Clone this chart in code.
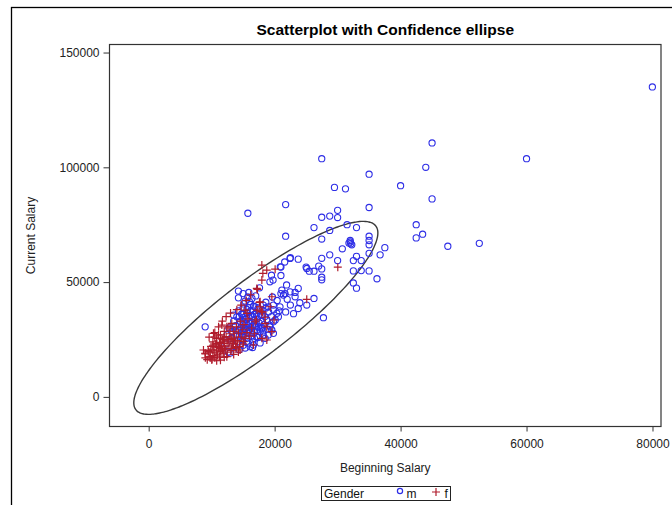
<!DOCTYPE html>
<html>
<head>
<meta charset="utf-8">
<script src="https://cdn.jsdelivr.net/npm/d3@7"></script>
<style>
  body { margin: 0; background: #fff; }
  svg { display: block; font-family: 'Liberation Sans', Arial, sans-serif; }
</style>
</head>
<body>
<div class="chart"></div>
<script>
// [beginning salary, current salary]
const maleData = [
  [79980, 135000], [60000, 103750], [45000, 110625], [27480, 103750], [44000, 100000],
  [35000, 97000], [29500, 91250], [31250, 90625], [40000, 92000], [45000, 86250],
  [21750, 83750], [15750, 80000], [35000, 82500], [30000, 81250], [27480, 78250],
  [28750, 78750], [30000, 78125], [26250, 73750], [28750, 72500], [31500, 75000],
  [33000, 73750], [42480, 75000], [42480, 69250], [43500, 70875], [47500, 65625],
  [52500, 66875], [21750, 70000], [27480, 68750], [32000, 67500], [32000, 68125],
  [32250, 66250], [31800, 67000], [32100, 66750], [35000, 70000], [35000, 68125],
  [35000, 66250], [37500, 65000], [30750, 64500], [36750, 61875], [35000, 62500],
  [28750, 61875], [27480, 60375], [30000, 59375], [33000, 61250], [32500, 59375],
  [33750, 59375], [22500, 60625], [23750, 60000], [21600, 58750], [21000, 56550],
  [25000, 56550], [25500, 54750], [26250, 54750], [27000, 57000], [27480, 55750],
  [27480, 52125], [27480, 51000], [32500, 54875], [33750, 55000], [35000, 54875],
  [36250, 51450], [32500, 49625], [33000, 47375], [21000, 52875], [21900, 48750],
  [23250, 45500], [23250, 43625], [26250, 42875], [19500, 53000], [19750, 50875],
  [19250, 50125], [20900, 56650], [22450, 60300], [25100, 55950], [21150, 46500],
  [21650, 45000], [22450, 45750], [21400, 44375], [23750, 47250], [24000, 41000],
  [23750, 38500], [25100, 40000], [27750, 34500], [22500, 40000], [21750, 37000],
  [22000, 42500], [23000, 36250],
  [14250, 46100], [15000, 45000], [15750, 43500], [14250, 43150], [16400, 42900],
  [18200, 40000], [19000, 39250], [19800, 40000], [20850, 39250], [16900, 39250],
  [16600, 37500], [20350, 36400], [20600, 34900], [19800, 32750], [19300, 30550],
  [17700, 28400], [18200, 27000], [17150, 26200], [8970, 30500], [13460, 35650],
  [14000, 34900], [12620, 19560], [12940, 19130], [15320, 21300], [16100, 21870],
  [16630, 22600], [19550, 29130], [19810, 27680],
  [14500, 33000], [14600, 30000], [14700, 27500], [14750, 36000], [14900, 24500],
  [15000, 31500], [15000, 28500], [15000, 38750], [15000, 26250], [15000, 34500],
  [15000, 22500], [15100, 40500], [15300, 29800], [15450, 33750], [15600, 25500],
  [15600, 36750], [15750, 31000], [15750, 27750], [15750, 39000], [15750, 23500],
  [15900, 34500], [16000, 41500], [16050, 29250], [16200, 32250], [16200, 37500],
  [16350, 26500], [16500, 30750], [16500, 35000], [16500, 24000], [16650, 39500],
  [16800, 28000], [16800, 33500], [17000, 31000], [17100, 36250], [17250, 29250],
  [17250, 34000], [17400, 26000], [17400, 38750], [17550, 32250], [17700, 30000],
  [17850, 35500], [18000, 33000], [18000, 37750], [18150, 28750], [18300, 31500],
  [18450, 35000], [18600, 41250], [18750, 33750], [18900, 29500], [19050, 37000],
  [19200, 31250], [19500, 35000], [19650, 43500], [19800, 38000], [20100, 33500],
  [20400, 42000], [20700, 37500], [21000, 45000], [13800, 31000], [13950, 27000],
  [14100, 24000], [14250, 29000], [14250, 37500], [13500, 33000], [13200, 28500],
  [13050, 25500], [12750, 30000], [12450, 27000], [12300, 23000], [13650, 22000],
  [14400, 20500], [16500, 21500], [17700, 23500], [18500, 25500], [19000, 27000],
  [15900, 45500], [17000, 44000], [17600, 47500],
  [15000, 30000], [15000, 32750], [15000, 36250], [15000, 27000], [15600, 32000],
  [15600, 29000], [15600, 34250], [15600, 38000], [16200, 28000], [16200, 30500],
  [16200, 35500], [16200, 40250], [16800, 31750], [16800, 36000], [16800, 25500],
  [14400, 31500], [14400, 26500], [14400, 35000], [13800, 29000], [17400, 30500],
  [17400, 35250], [18000, 30000], [18000, 35750], [18600, 38750], [15300, 41750],
];

const femaleData = [
  [30030, 56520], [25100, 42500], [17970, 57400], [18750, 55200], [18130, 53780],
  [17970, 50870], [20080, 55650], [17270, 46830], [17590, 41170], [17700, 39260],
  [19290, 39260], [18100, 36900], [18500, 34700], [17970, 25520], [18760, 24780],
  [17170, 47260], [19560, 43610], [17700, 41430], [15320, 37830], [15590, 36390],
  [17200, 37800], [17900, 37200], [18490, 32040], [18760, 30560], [19560, 28390],
  [16900, 32740], [19900, 33500], [16630, 22610], [15050, 24040],
  [9000, 17000], [9000, 18750], [9300, 16200], [9450, 20250], [9750, 17500],
  [9750, 19500], [9900, 22000], [10050, 16500], [10200, 18000], [10200, 20500],
  [10200, 24000], [10350, 21750], [10500, 17100], [10500, 19200], [10650, 23000],
  [10800, 20000], [10800, 25500], [10950, 18300], [11100, 21500], [11250, 17700],
  [11250, 23750], [11400, 19800], [11400, 27000], [11550, 22500], [11700, 20500],
  [11700, 25000], [11850, 18800], [12000, 23300], [12000, 28500], [12150, 21000],
  [12300, 26250], [12450, 19500], [12450, 24000], [12600, 30000], [12750, 22250],
  [12900, 27500], [13050, 20200], [13050, 25000], [13200, 32000], [13350, 23000],
  [13500, 28500], [13650, 26000], [13800, 21500], [13950, 30500], [14100, 24500],
  [14250, 27750], [14400, 22000], [14550, 33000], [14700, 26000], [14850, 29250],
  [15000, 23000], [15150, 31500], [15300, 25500], [15600, 28000], [15750, 34000],
  [16050, 26500], [16350, 30000], [16800, 27500], [17100, 33500], [9600, 26000],
  [10500, 28000], [11100, 30500], [11700, 33000], [12300, 35000], [13000, 36500],
  [14000, 38000], [14700, 40000], [15500, 42000], [16200, 44500], [12000, 17250],
  [13500, 18500], [14250, 19500], [11400, 16000], [10800, 15750],
  [11620, 31300], [12410, 30560], [12940, 30560], [10290, 27700], [11080, 26960],
  [10830, 21870], [11350, 23350], [8700, 20430], [8970, 19000], [9490, 19700],
  [9760, 16960], [10030, 16090], [13210, 25520], [11870, 24780], [13460, 23350],
  [14000, 21870], [14520, 20430], [11620, 20430], [12410, 17520],
  [10200, 22500], [10800, 23250], [11400, 21000], [12000, 21750], [12600, 24750],
  [13200, 21000], [12000, 26000], [11400, 25500], [10500, 26000], [13800, 24000],
];

const xTicks = [0, 20000, 40000, 60000, 80000];
const yTicks = [0, 50000, 100000, 150000];
const legendGroups = ['m', 'f'];

// sample statistics used for the prediction ellipse
const meanBegin = 17016;
const meanCurrent = 34420;
const sdBegin = 7871;
const sdCurrent = 17076;
const corr = 0.88;
const ellipseScale = Math.sqrt(6.06);

const W = 672;
const H = 505;
const plot = { left: 109.5, right: 661, top: 44.5, bottom: 426.5 };

const blue = '#2e2ee6';
const red = '#b01c2c';

const svg = d3
  .select('.chart')
  .append('svg')
  .attr('width', W)
  .attr('height', H);

// outer graph border (runs off the window on the right and bottom)
svg
  .append('rect')
  .attr('x', 11.5)
  .attr('y', 7.5)
  .attr('width', 700)
  .attr('height', 540)
  .attr('fill', 'none')
  .attr('stroke', '#000')
  .attr('stroke-width', 1.3);

const xScale = d3
  .scaleLinear()
  .domain([-6220, 81350])
  .range([plot.left, plot.right]);

const yScale = d3
  .scaleLinear()
  .domain([-12900, 153500])
  .range([plot.bottom, plot.top]);

svg
  .append('text')
  .attr('x', (plot.left + plot.right) / 2)
  .attr('y', 35)
  .attr('text-anchor', 'middle')
  .style('font-size', '15.5px')
  .style('font-weight', 'bold')
  .attr('fill', '#000')
  .text('Scatterplot with Confidence ellipse');

const xAxis = d3
  .axisBottom(xScale)
  .tickValues(xTicks)
  .tickSize(5)
  .tickPadding(8)
  .tickFormat(d3.format('d'));

const yAxis = d3
  .axisLeft(yScale)
  .tickValues(yTicks)
  .tickSize(6)
  .tickPadding(4)
  .tickFormat(d3.format('d'));

const styleAxis = (g) => {
  g.select('.domain').remove();
  g.selectAll('line').attr('stroke', '#333');
  g.selectAll('text')
    .attr('fill', '#222')
    .style('font-size', '12px')
    .style('font-family', "'Liberation Sans', Arial, sans-serif");
};

svg
  .append('g')
  .attr('transform', `translate(0, ${plot.bottom})`)
  .call(xAxis)
  .call(styleAxis);

svg
  .append('g')
  .attr('transform', `translate(${plot.left}, 0)`)
  .call(yAxis)
  .call(styleAxis);

svg
  .append('text')
  .attr('x', (plot.left + plot.right) / 2)
  .attr('y', 472)
  .attr('text-anchor', 'middle')
  .style('font-size', '12px')
  .attr('fill', '#222')
  .text('Beginning Salary');

svg
  .append('text')
  .attr('transform', 'rotate(-90)')
  .attr('x', -(plot.top + plot.bottom) / 2)
  .attr('y', 35)
  .attr('text-anchor', 'middle')
  .style('font-size', '12px')
  .attr('fill', '#222')
  .text('Current Salary');

svg
  .append('clipPath')
  .attr('id', 'plot-clip')
  .append('rect')
  .attr('x', plot.left)
  .attr('y', plot.top)
  .attr('width', plot.right - plot.left)
  .attr('height', plot.bottom - plot.top);

const area = svg.append('g').attr('clip-path', 'url(#plot-clip)');

// ellipse outline, built from the stats above
const ellipsePts = d3.range(0, 360, 2).map((deg) => {
  const t = (deg * Math.PI) / 180;
  const u = Math.cos(t);
  const v = Math.sin(t);
  return [
    meanBegin + ellipseScale * sdBegin * u,
    meanCurrent + ellipseScale * sdCurrent * (corr * u + Math.sqrt(1 - corr * corr) * v),
  ];
});

const line = d3
  .line()
  .x((d) => xScale(d[0]))
  .y((d) => yScale(d[1]))
  .curve(d3.curveCardinalClosed);

area
  .append('path')
  .attr('d', line(ellipsePts))
  .attr('fill', 'none')
  .attr('stroke', '#3a3a3a')
  .attr('stroke-width', 1.4);

const plusPath = (s) => `M${-s},0H${s}M0,${-s}V${s}`;

area
  .selectAll('circle.m')
  .data(maleData)
  .enter()
  .append('circle')
  .attr('class', 'm')
  .attr('cx', (d) => xScale(d[0]))
  .attr('cy', (d) => yScale(d[1]))
  .attr('r', 3.1)
  .attr('fill', 'none')
  .attr('stroke', blue)
  .attr('stroke-width', 1.1);

area
  .selectAll('path.f')
  .data(femaleData)
  .enter()
  .append('path')
  .attr('class', 'f')
  .attr('transform', (d) => `translate(${xScale(d[0])}, ${yScale(d[1])})`)
  .attr('d', plusPath(4))
  .attr('stroke', red)
  .attr('stroke-width', 1.2);

// plot frame
svg
  .append('rect')
  .attr('x', plot.left)
  .attr('y', plot.top)
  .attr('width', plot.right - plot.left)
  .attr('height', plot.bottom - plot.top)
  .attr('fill', 'none')
  .attr('stroke', '#333')
  .attr('stroke-width', 1.2);

// legend
const legend = svg.append('g');
legend
  .append('rect')
  .attr('x', 321.5)
  .attr('y', 486.5)
  .attr('width', 129)
  .attr('height', 14)
  .attr('fill', '#fff')
  .attr('stroke', '#222')
  .attr('stroke-width', 1);

legend
  .append('text')
  .attr('x', 324)
  .attr('y', 498)
  .style('font-size', '12px')
  .attr('fill', '#111')
  .text('Gender');

legend
  .append('circle')
  .attr('cx', 400)
  .attr('cy', 491)
  .attr('r', 2.6)
  .attr('fill', 'none')
  .attr('stroke', blue)
  .attr('stroke-width', 1.2);

legend
  .append('text')
  .attr('x', 406.5)
  .attr('y', 498)
  .style('font-size', '12px')
  .attr('fill', '#111')
  .text(legendGroups[0]);

legend
  .append('path')
  .attr('transform', 'translate(436, 492)')
  .attr('d', plusPath(4))
  .attr('stroke', red)
  .attr('stroke-width', 1.2);

legend
  .append('text')
  .attr('x', 444.5)
  .attr('y', 498)
  .style('font-size', '12px')
  .attr('fill', '#111')
  .text(legendGroups[1]);
</script>
</body>
</html>
